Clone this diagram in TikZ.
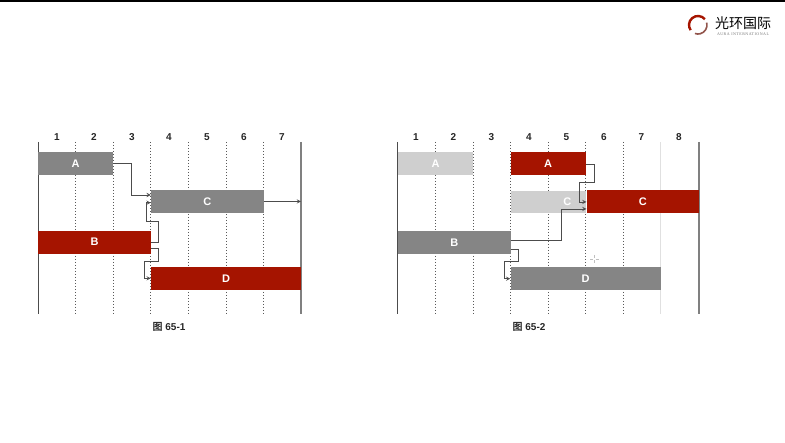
\documentclass[tikz,border=0pt]{standalone}
\usepackage{fontspec}
\setmainfont{Liberation Sans}
\newfontfamily\cjk{Noto Sans CJK SC}[BoldFont={* Bold}]
\newfontfamily\logofont{Liberation Serif}[LetterSpace=12]
\usetikzlibrary{positioning,arrows}
\definecolor{barred}{HTML}{A51400}
\definecolor{bargray}{HTML}{858585}
\definecolor{barlight}{HTML}{CFCFCF}
\definecolor{linegray}{HTML}{808080}
\tikzset{
	bar/.style={anchor=west,inner sep=0pt,minimum height=23pt,text=white,font=\fontsize{11}{11}\selectfont\bfseries},
	redbar/.style={bar,fill=barred},
	graybar/.style={bar,fill=bargray},
	lightbar/.style={bar,fill=barlight},
	daynum/.style={font=\fontsize{10}{10}\selectfont\bfseries,text=black!85},
	dayline/.style={dotted,line width=1pt,draw=black!65},
	startline/.style={line width=1pt,draw=black!70},
	edgeline/.style={line width=1.3pt,draw=linegray},
	link/.style={->,>=stealth,line width=0.9pt,draw=black!70},
	caption/.style={font=\fontsize{10}{10}\selectfont\bfseries,text=black!85},
}
\begin{document}
\begin{tikzpicture}[x=1pt,y=-1pt]
	\useasboundingbox (0,0) rectangle (785,443);
	\fill[black] (0,0) rectangle (785,2.5);
	% chart 65-1
	\foreach \x in {75.5,113,150.7,188.3,226,263.3}
		\draw[dayline] (\x,142) -- (\x,314);
	\draw[startline] (38,142) -- (38,314);
	\draw[edgeline] (301,142) -- (301,314);
	\foreach \n/\x in {1/57,2/94,3/132,4/169,5/207,6/244,7/282}
		\node[daynum] (l\n) at (\x,137.5) {\n};
	\node[graybar,minimum width=75pt] (a1) at (38,163.7) {A};
	\node[graybar,minimum width=112.5pt] (c1) at (150.8,201.5) {C};
	\node[redbar,minimum width=112.7pt] (b1) at (38,242.2) {B};
	\node[redbar,minimum width=150.2pt] (d1) at (150.8,279) {D};
	\coordinate (e1) at (301,201.5);
	\draw[link] (a1.east) -- ++(18,0) |- ([yshift=6.5pt]c1.west);
	\draw[link] (c1.east) -- (e1);
	\draw[link] (b1.east) -- ++(7.5,0) |- (146,221.3) |- ([yshift=-1.2pt]c1.west);
	\draw[link] ([yshift=-6.5pt]b1.east) -- ++(7.5,0) |- (144.3,261) |- ([yshift=0.7pt]d1.west);
	\node[caption] (t1) at (169,327) {{\cjk 图} 65-1};
	% chart 65-2
	\foreach \x in {435.3,473,510.3,548,585.7,623}
		\draw[dayline] (\x,142) -- (\x,314);
	\draw[startline] (397.7,142) -- (397.7,314);
	\draw[edgeline,draw=black!12] (660.7,142) -- (660.7,314);
	\draw[edgeline] (699,142) -- (699,314);
	\foreach \n/\x in {1/416,2/453.5,3/491.5,4/529,5/566.5,6/604,7/641.5,8/679}
		\node[daynum] (m\n) at (\x,137.5) {\n};
	\node[lightbar,minimum width=75pt] (a2) at (398,164) {A};
	\node[redbar,minimum width=75.4pt] (a3) at (510.3,164) {A};
	\node[lightbar,minimum width=75.4pt,minimum height=22.6pt,text width=75.4pt,align=right] (c2) at (510.3,202) {C\hspace*{14.5pt}};
	\node[redbar,minimum width=112.5pt] (c3) at (586.5,202) {C};
	\node[graybar,minimum width=112.3pt] (b2) at (398,242.5) {B};
	\node[graybar,minimum width=150.4pt] (d2) at (510.3,279) {D};
	\draw[link] (a3.east) -- ++(8,0) |- (579.3,182.7) |- (c3.west);
	\draw[link] ([yshift=1.8pt]b2.east) -| (561.7,209) -- ([yshift=-7pt]c3.west);
	\draw[link] ([yshift=-6.5pt]b2.east) -- ++(8,0) |- (504.3,261.7) |- ([yshift=0.3pt]d2.west);
	\node[caption] (t2) at (529,327) {{\cjk 图} 65-2};
	% pointer
	\draw[black!25,line width=0.5pt] (594.5,255) -- (594.5,258) (594.5,260.5) -- (594.5,263.5)
	(590.3,259.2) -- (593.3,259.2) (595.8,259.2) -- (598.8,259.2);
	% logo
	\draw[barred,line width=2.4pt] (704.9,19.2) arc (-40:-215:9);
	\draw[barred!60!black!70,line width=1.6pt] (706.7,22.7) arc (-15:110:9);
	\node[inner sep=0pt,text=black] (brand) at (743,23.5) {\cjk\fontsize{14}{14}\selectfont 光环国际};
	\node[inner sep=0pt,text=black!55,below=2.5pt of brand] (aura) {\logofont\fontsize{4}{4}\selectfont AURA INTERNATIONAL};
\end{tikzpicture}
\end{document}
